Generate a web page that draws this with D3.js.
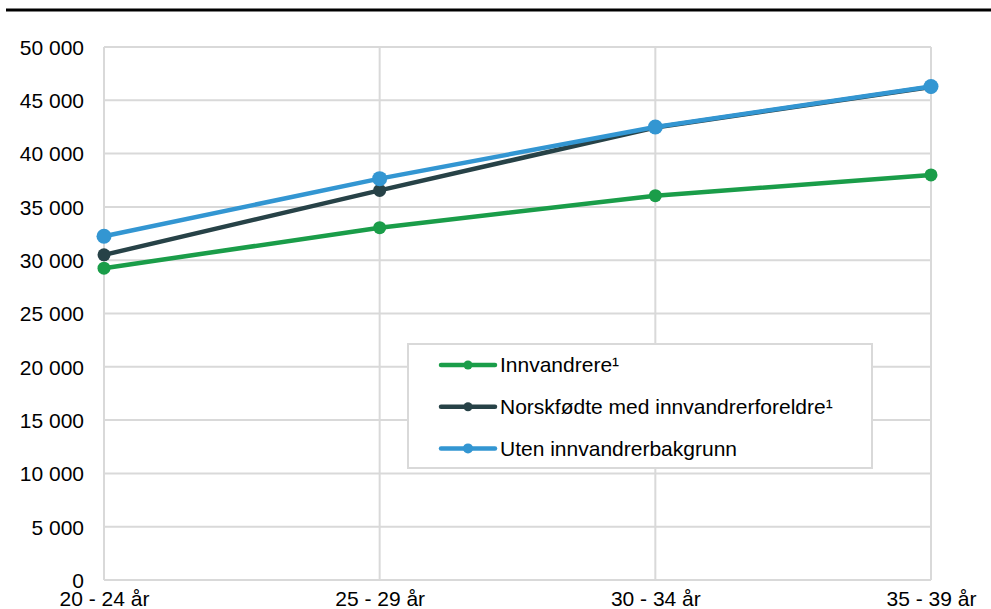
<!DOCTYPE html>
<html lang="no">
<head>
<meta charset="UTF-8">
<title>Innvandrere, norskfødte og uten innvandrerbakgrunn etter alder</title>
<style>
  html, body { margin: 0; padding: 0; background: #fff; }
  svg { display: block; font-family: "Liberation Sans", Arial, sans-serif; }
</style>
</head>
<body>
<div id="chart"></div>
<script src="https://d3js.org/d3.v7.min.js"></script>
<script>
// data
var categories = ["20 - 24 år", "25 - 29 år", "30 - 34 år", "35 - 39 år"];
var innvandrere = [29250, 33050, 36050, 38000];
var norskfodte = [30500, 36550, 42450, 46250];
var utenBakgrunn = [32250, 37650, 42500, 46300];
var yTicks = [0, 5000, 10000, 15000, 20000, 25000, 30000, 35000, 40000, 45000, 50000];
var seriesNames = ["Innvandrere¹", "Norskfødte med innvandrerforeldre¹", "Uten innvandrerbakgrunn"];
var seriesColors = ["#1a9d49", "#274247", "#3396d2"];

var series = [
  {name: seriesNames[0], values: innvandrere, color: seriesColors[0], r: 6.5},
  {name: seriesNames[1], values: norskfodte, color: seriesColors[1], r: 6.5},
  {name: seriesNames[2], values: utenBakgrunn, color: seriesColors[2], r: 7.5}
];

var W = 991, H = 609;
var plotLeft = 104, plotRight = 931, plotTop = 47, plotBottom = 580;

var svg = d3.select("#chart").append("svg")
    .attr("width", W)
    .attr("height", H);

// rule under the (cut off) title
svg.append("line")
    .attr("x1", 6).attr("x2", W)
    .attr("y1", 10).attr("y2", 10)
    .attr("stroke", "#000")
    .attr("stroke-width", 3);

var x = d3.scalePoint()
    .domain(categories)
    .range([plotLeft, plotRight]);

var y = d3.scaleLinear()
    .domain([0, 50000])
    .range([plotBottom, plotTop]);

var fmt = function(d) { return d3.format(",")(d).replace(/,/g, " "); };

// horizontal gridlines
svg.append("g")
  .selectAll("line")
  .data(yTicks)
  .enter().append("line")
    .attr("x1", plotLeft).attr("x2", plotRight)
    .attr("y1", function(d) { return y(d); })
    .attr("y2", function(d) { return y(d); })
    .attr("stroke", "#d9d9d9")
    .attr("stroke-width", 2);

// vertical gridlines at each category
svg.append("g")
  .selectAll("line")
  .data(categories)
  .enter().append("line")
    .attr("x1", function(d) { return x(d); })
    .attr("x2", function(d) { return x(d); })
    .attr("y1", plotTop).attr("y2", plotBottom)
    .attr("stroke", "#d9d9d9")
    .attr("stroke-width", 2);

// y axis labels
var yAxis = svg.append("g")
    .attr("transform", "translate(" + (plotLeft - 20) + ",0)")
    .call(d3.axisLeft(y).tickValues(yTicks).tickFormat(fmt).tickSize(0).tickPadding(0));
yAxis.select(".domain").remove();
yAxis.selectAll("text")
    .attr("font-family", "Liberation Sans, Arial, sans-serif")
    .attr("font-size", "21px")
    .attr("fill", "#000")
    .attr("dy", "0.35em");

// x axis labels
var xAxis = svg.append("g")
    .attr("transform", "translate(0," + plotBottom + ")")
    .call(d3.axisBottom(x).tickSize(0).tickPadding(0));
xAxis.select(".domain").remove();
xAxis.selectAll("text")
    .attr("font-family", "Liberation Sans, Arial, sans-serif")
    .attr("font-size", "21px")
    .attr("fill", "#000")
    .attr("dy", null)
    .attr("y", 26);

var line = d3.line()
    .x(function(d, i) { return x(categories[i]); })
    .y(function(d) { return y(d); });

var g = svg.append("g");
series.forEach(function(s) {
  g.append("path")
      .datum(s.values)
      .attr("d", line)
      .attr("fill", "none")
      .attr("stroke", s.color)
      .attr("stroke-width", 4.5)
      .attr("stroke-linejoin", "round");
  g.selectAll(null)
      .data(s.values)
      .enter().append("circle")
      .attr("cx", function(d, i) { return x(categories[i]); })
      .attr("cy", function(d) { return y(d); })
      .attr("r", s.r)
      .attr("fill", s.color);
});

// legend
var legend = svg.append("g").attr("transform", "translate(408,344)");
legend.append("rect")
    .attr("width", 464).attr("height", 124)
    .attr("fill", "#fff")
    .attr("stroke", "#d9d9d9")
    .attr("stroke-width", 2);

var rows = legend.selectAll("g.item")
    .data(series)
    .enter().append("g")
    .attr("class", "item")
    .attr("transform", function(d, i) { return "translate(0," + (21 + i * 41.7) + ")"; });
rows.append("line")
    .attr("x1", 33).attr("x2", 87)
    .attr("stroke", function(d) { return d.color; })
    .attr("stroke-width", 4.5)
    .attr("stroke-linecap", "round");
rows.append("circle")
    .attr("cx", 60)
    .attr("r", function(d, i) { return i === 2 ? 5 : 4.5; })
    .attr("fill", function(d) { return d.color; });
rows.append("text")
    .attr("x", 92)
    .attr("dy", "0.35em")
    .attr("font-size", "21px")
    .attr("fill", "#000")
    .text(function(d) { return d.name; });
</script>
</body>
</html>
